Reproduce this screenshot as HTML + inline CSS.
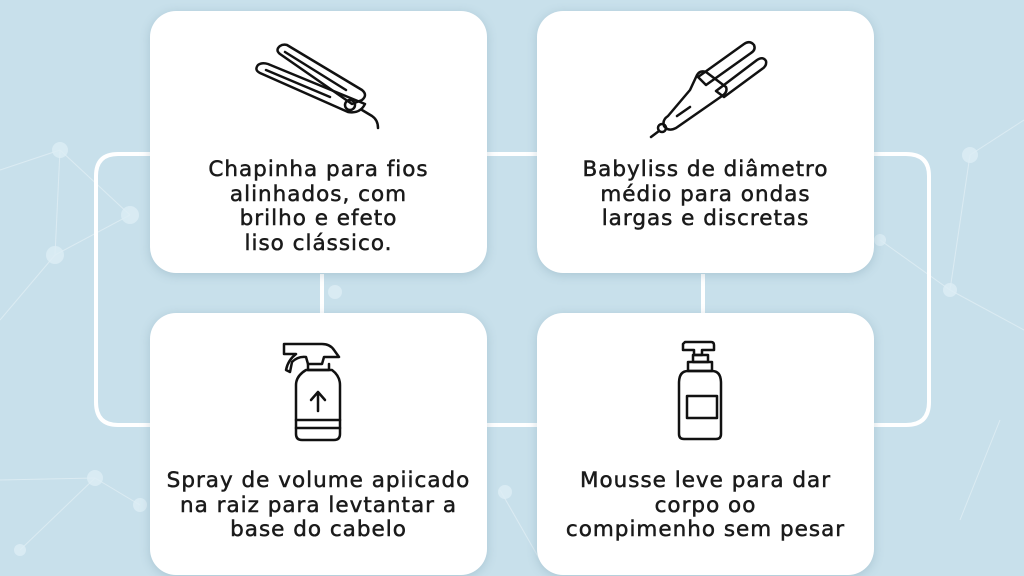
<!DOCTYPE html>
<html><head><style>
body{margin:0;width:1024px;height:576px;overflow:hidden;background:#c8e0eb;font-family:"DejaVu Sans","Liberation Sans",sans-serif;position:relative}
.card{position:absolute;background:#fff;border-radius:26px;box-shadow:0 2px 10px rgba(80,120,140,.25);width:337px;height:262px}
.t{position:absolute;left:-20px;right:-20px;text-align:center;font-size:21.5px;line-height:24.5px;color:#1a1a1a;letter-spacing:1px;-webkit-text-stroke:.5px #1a1a1a;white-space:nowrap}
svg.bg{position:absolute;left:0;top:0}
</style></head><body>
<svg class="bg" width="1024" height="576">
<g stroke="#e4f0f5" stroke-width="1" opacity=".7">
<line x1="0" y1="170" x2="60" y2="150"/><line x1="60" y1="150" x2="130" y2="215"/><line x1="130" y1="215" x2="55" y2="255"/><line x1="55" y1="255" x2="0" y2="320"/><line x1="55" y1="255" x2="60" y2="150"/><line x1="0" y1="480" x2="95" y2="478"/><line x1="95" y1="478" x2="140" y2="505"/><line x1="20" y1="550" x2="95" y2="478"/><line x1="970" y1="155" x2="1024" y2="120"/><line x1="970" y1="155" x2="950" y2="290"/><line x1="950" y1="290" x2="1024" y2="330"/><line x1="880" y1="240" x2="950" y2="290"/><line x1="1000" y1="420" x2="960" y2="520"/><line x1="500" y1="490" x2="540" y2="560"/>
</g>
<g fill="#ddeef5" opacity=".8">
<circle cx="60" cy="150" r="8"/><circle cx="130" cy="215" r="9"/><circle cx="55" cy="255" r="9"/><circle cx="95" cy="478" r="8"/><circle cx="140" cy="505" r="7"/><circle cx="970" cy="155" r="8"/><circle cx="950" cy="290" r="7"/><circle cx="880" cy="240" r="6"/><circle cx="335" cy="292" r="7"/><circle cx="505" cy="492" r="7"/><circle cx="20" cy="550" r="6"/>
</g>
<g fill="none" stroke="#fff" stroke-width="4">
<path d="M150 154 H118 Q96 154 96 176 V402 Q96 425 118 425 H150"/>
<path d="M874 154 H906 Q929 154 929 176 V402 Q929 425 906 425 H874"/>
<line x1="487" y1="154" x2="537" y2="154"/><line x1="487" y1="425" x2="537" y2="425"/>
<line x1="322" y1="274" x2="322" y2="313"/><line x1="703" y1="274" x2="703" y2="313"/>
</g>
</svg>

<div class="card" style="left:150px;top:11px"><div class="t" style="top:147px">Chapinha para fios<br>alinhados, com<br>brilho e efeto<br>liso clássico.</div></div>
<div class="card" style="left:537px;top:11px"><div class="t" style="top:147px">Babyliss de diâmetro<br>médio para ondas<br>largas e discretas</div></div>
<div class="card" style="left:150px;top:313px"><div class="t" style="top:156px">Spray de volume apiicado<br>na raiz para levtantar a<br>base do cabelo</div></div>
<div class="card" style="left:537px;top:313px"><div class="t" style="top:156px">Mousse leve para dar<br>corpo oo<br>compimenho sem pesar</div></div>

<svg class="bg" width="1024" height="576" fill="none" stroke="#111" stroke-width="2.5" stroke-linejoin="round" stroke-linecap="round">
<path d="M280 46 Q275 50 280 54 L352 104 L362 100 Q368 95 362 90 L287 45 Q283 44 280 46 Z"/>
<path d="M258 65 Q254 70 260 73 L348 112 Q360 114 365 104 L268 64 Q262 62 258 65 Z"/>
<path d="M285 52 L346 90 M266 70 L330 97"/>
<circle cx="350" cy="105" r="5"/>
<path d="M362 110 L372 116 Q378 120 378 128"/>
<path d="M698 77 L744 44 Q750 40 754 45 Q756 50 751 53 L706 85 Z"/>
<path d="M716 91 L757 60 Q763 56 766 61 Q767 66 762 69 L724 97 Z"/>
<path d="M690 90 L697 75 Q700 70 706 72 L726 87 Q728 92 722 96 L676 128 Q668 132 664 126 Q662 120 668 116 Z"/>
<path d="M677 116 L690 107"/>
<circle cx="662" cy="128" r="4"/>
<path d="M659 131 L651 137"/>
<path d="M284 344 H322 Q330 344 334 350 L339 357 H324 L322 364 H308 L306 357 Q298 356 292 362 L290 372 L286 370 Q288 360 296 354 H284 Z"/>
<path d="M308 364 V370 H329 V364"/>
<path d="M306 370 H332 Q340 376 340 385 V434 Q340 440 334 440 H302 Q296 440 296 434 V385 Q296 376 306 370 Z"/>
<path d="M296 420 H340 M296 428 H340"/>
<path d="M318 411 V393 M311 400 L318 392 L325 400"/>
<path d="M685 342 H711 Q714 342 714 345 V350 H702 V355 H694 V350 H683 V344 Z"/>
<path d="M693 355 H708 V362 H693 Z"/>
<path d="M688 362 H712 V371 H688 Z"/>
<path d="M688 371 H712 Q721 371 721 383 V434 Q721 439 716 439 H684 Q679 439 679 434 V383 Q679 371 688 371 Z"/>
<rect x="687" y="396" width="30" height="22"/>
</svg>
</body></html>
